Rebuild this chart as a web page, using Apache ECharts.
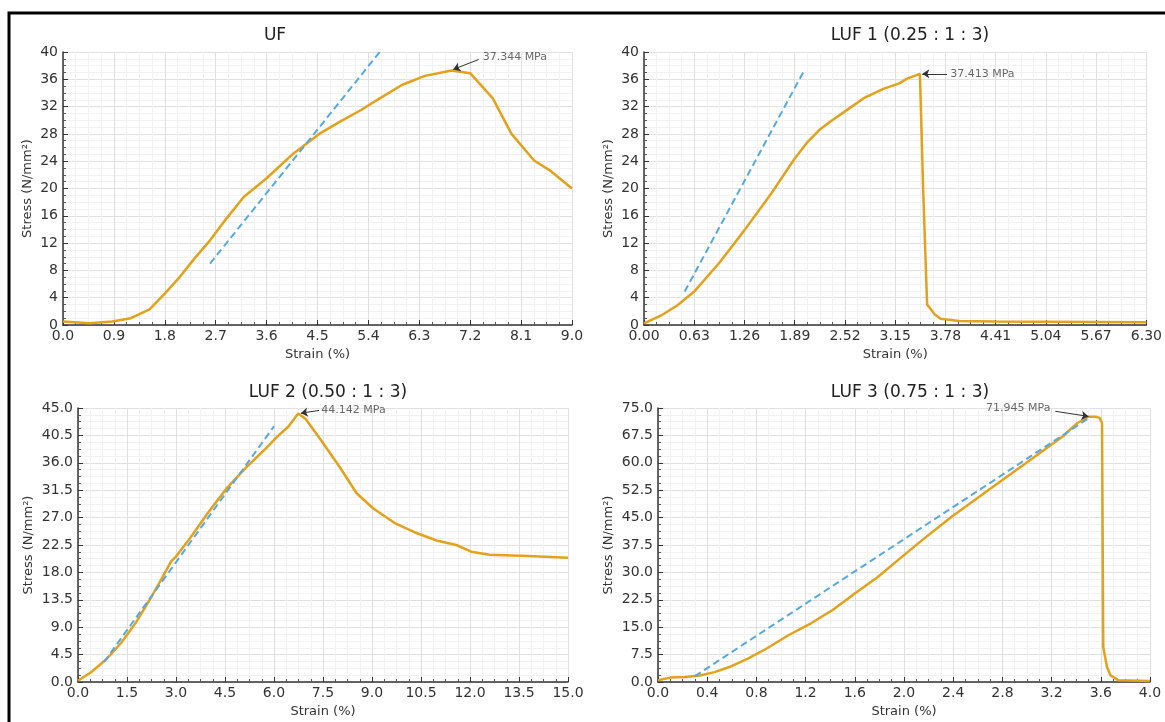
<!DOCTYPE html>
<html>
<head>
<meta charset="utf-8">
<script src="https://cdn.jsdelivr.net/npm/echarts@6/dist/echarts.min.js"></script>
<style>
html, body { margin: 0; padding: 0; background: #fff; }
#main { width: 1165px; height: 722px; }
</style>
</head>
<body>
<div id="main"></div>
<script>
// 拉伸曲线数据 (strain %, stress N/mm²)
var ufStrain = [0, 0.47, 0.87, 1.2, 1.53, 1.8, 2.07, 2.33, 2.6, 2.87, 3.2, 3.6, 4.07, 4.53, 4.9, 5.27, 5.6, 6.0, 6.4, 6.87, 7.2, 7.6, 7.93, 8.33, 8.6, 9.0];
var ufStress = [0.5, 0.25, 0.5, 1.0, 2.3, 4.6, 7.1, 9.8, 12.4, 15.4, 18.8, 21.5, 25.1, 28.0, 29.8, 31.5, 33.2, 35.2, 36.5, 37.3, 36.9, 33.2, 28.0, 24.1, 22.7, 20.0];
var ufFitStrain = [2.6, 5.6];
var ufFitStress = [9.0, 40.0];

var luf1Strain = [0, 0.23, 0.42, 0.63, 0.95, 1.26, 1.58, 1.89, 2.05, 2.2, 2.36, 2.52, 2.75, 3.0, 3.2, 3.3, 3.46, 3.5, 3.55, 3.65, 3.72, 3.95, 4.4, 6.3];
var luf1Stress = [0.25, 1.5, 2.9, 4.9, 9.2, 13.9, 19.0, 24.4, 26.8, 28.6, 30.0, 31.3, 33.2, 34.6, 35.4, 36.1, 36.8, 20.0, 3.0, 1.5, 0.9, 0.6, 0.5, 0.4];
var luf1FitStrain = [0.51, 2.0];
var luf1FitStress = [4.9, 37.1];

var luf2Strain = [0, 0.4, 0.86, 1.32, 1.79, 2.25, 2.71, 2.85, 3.0, 3.4, 3.97, 4.55, 5.12, 5.7, 6.1, 6.45, 6.74, 6.97, 7.43, 8.0, 8.53, 9.04, 9.73, 10.3, 11.0, 11.58, 12.04, 12.6, 13.76, 15.0];
var luf2Stress = [0.2, 1.6, 3.7, 6.4, 9.9, 14.0, 18.4, 19.8, 20.6, 23.4, 27.7, 31.8, 35.1, 38.1, 40.3, 42.0, 44.1, 43.2, 39.8, 35.4, 31.0, 28.5, 26.0, 24.6, 23.2, 22.5, 21.4, 20.9, 20.7, 20.4];
var luf2FitStrain = [0.8, 6.0];
var luf2FitStress = [3.3, 42.0];

var luf3Strain = [0, 0.1, 0.22, 0.34, 0.46, 0.58, 0.73, 0.88, 1.06, 1.24, 1.42, 1.6, 1.79, 1.97, 2.15, 2.39, 2.69, 2.99, 3.29, 3.41, 3.5, 3.56, 3.59, 3.61, 3.62, 3.65, 3.68, 3.74, 4.0];
var luf3Stress = [0.5, 1.2, 1.4, 1.8, 2.7, 4.1, 6.4, 9.1, 12.8, 16.0, 19.7, 24.2, 28.8, 33.9, 38.9, 45.3, 52.6, 59.9, 67.2, 70.9, 72.6, 72.6, 72.3, 70.9, 9.6, 4.1, 1.8, 0.5, 0.3];
var luf3FitStrain = [0.3, 3.52];
var luf3FitStress = [1.6, 72.6];

var titles = ['UF', 'LUF 1 (0.25 : 1 : 3)', 'LUF 2 (0.50 : 1 : 3)', 'LUF 3 (0.75 : 1 : 3)'];
var peakLabels = ['37.344 MPa', '37.413 MPa', '44.142 MPa', '71.945 MPa'];

var ORANGE = '#E4A11B';
var BLUE = '#56A9E0';
var FONT = 'DejaVu Sans';

function zip(xs, ys) {
	return xs.map(function (x, i) { return [x, ys[i]]; });
}

// 每个子图的布局与坐标轴
var panels = [ {
	grid : { left : 63, top : 52, width : 509, height : 273 },
	title : [270, 22],
	x : { max : 9, interval : 0.9, dec : 1, minor : 4 },
	y : { max : 40, interval : 4, dec : 0, minor : 4 },
	yGap : 29,
	curve : zip(ufStrain, ufStress),
	fit : zip(ufFitStrain, ufFitStress),
	text : [7.42, 39.3], textPos : 'right',
	arrow : [[7.35, 38.9], [6.9, 37.45]]
}, {
	grid : { left : 644, top : 52, width : 504, height : 273 },
	title : [905, 22],
	x : { max : 6.3, interval : 0.63, dec : 2, minor : 4 },
	y : { max : 40, interval : 4, dec : 0, minor : 4 },
	yGap : 29,
	curve : zip(luf1Strain, luf1Stress),
	fit : zip(luf1FitStrain, luf1FitStress),
	text : [3.84, 36.8], textPos : 'right',
	arrow : [[3.8, 36.8], [3.49, 36.8]]
}, {
	grid : { left : 78, top : 408, width : 490, height : 274 },
	title : [323, 379],
	x : { max : 15, interval : 1.5, dec : 1, minor : 4 },
	y : { max : 45, interval : 4.5, dec : 1, minor : 4 },
	yGap : 43,
	curve : zip(luf2Strain, luf2Stress),
	fit : zip(luf2FitStrain, luf2FitStress),
	text : [7.45, 44.7], textPos : 'right',
	arrow : [[7.38, 44.6], [6.82, 44.15]]
}, {
	grid : { left : 658, top : 408, width : 492, height : 274 },
	title : [905, 379],
	x : { max : 4, interval : 0.4, dec : 1, minor : 4 },
	y : { max : 75, interval : 7.5, dec : 1, minor : 4 },
	yGap : 43,
	curve : zip(luf3Strain, luf3Stress),
	fit : zip(luf3FitStrain, luf3FitStress),
	text : [3.19, 75.0], textPos : 'left',
	arrow : [[3.23, 74.1], [3.5, 72.7]]
} ];

function makeAxis(a, name, gap, isY) {
	return {
		type : 'value',
		min : 0,
		max : a.max,
		interval : a.interval,
		name : name,
		nameLocation : 'middle',
		nameGap : gap,
		nameTextStyle : { fontFamily : FONT, fontSize : 13, color : '#333' },
		axisLine : { show : true, onZero : false, lineStyle : { color : '#333', width : 1.5 } },
		axisTick : { show : true, inside : true, length : 5, lineStyle : { color : '#333' } },
		minorTick : { show : true, splitNumber : a.minor, length : 3, lineStyle : { color : '#555' } },
		axisLabel : {
			fontFamily : FONT, fontSize : 14, color : '#333', margin : isY ? 5 : 4,
			formatter : function (v) { return v.toFixed(a.dec); }
		},
		splitLine : { show : true, lineStyle : { color : '#e0e0e0', width : 1 } },
		minorSplitLine : { show : true, lineStyle : { color : '#f2f2f2', width : 1 } }
	};
}

var option = {
	animation : false,
	backgroundColor : '#fff',
	title : [],
	grid : [],
	xAxis : [],
	yAxis : [],
	series : [],
	graphic : [ {
		type : 'polyline',
		shape : { points : [[9, 722], [9, 13], [1165, 13]] },
		style : { stroke : '#000', lineWidth : 3, fill : null }
	} ]
};

panels.forEach(function (p, i) {
	option.title.push({
		text : titles[i],
		left : p.title[0],
		top : p.title[1],
		textAlign : 'center',
		textStyle : { fontFamily : FONT, fontSize : 17, fontWeight : 'normal', color : '#222' }
	});
	option.grid.push(p.grid);
	option.xAxis.push(Object.assign(makeAxis(p.x, 'Strain (%)', 23, false), { gridIndex : i }));
	option.yAxis.push(Object.assign(makeAxis(p.y, 'Stress (N/mm²)', p.yGap, true), { gridIndex : i }));

	option.series.push({
		type : 'line',
		xAxisIndex : i,
		yAxisIndex : i,
		data : p.fit,
		showSymbol : false,
		lineStyle : { color : BLUE, width : 2, type : [7, 4] },
		z : 3
	});
	option.series.push({
		type : 'line',
		xAxisIndex : i,
		yAxisIndex : i,
		data : p.curve,
		showSymbol : false,
		lineStyle : { color : ORANGE, width : 2.5 },
		z : 2,
		markLine : {
			silent : true,
			symbol : ['none', 'arrow'],
			symbolSize : 7,
			label : { show : false },
			lineStyle : { color : '#333', width : 1, type : 'solid' },
			data : [ [ { coord : p.arrow[0] }, { coord : p.arrow[1] } ] ]
		}
	});
	option.series.push({
		type : 'scatter',
		xAxisIndex : i,
		yAxisIndex : i,
		data : [p.text],
		symbolSize : 0,
		silent : true,
		label : {
			show : true,
			position : p.textPos,
			distance : 0,
			formatter : peakLabels[i],
			fontFamily : FONT,
			fontSize : 11,
			color : '#444'
		}
	});
});

var myChart = echarts.init(document.getElementById('main'));
myChart.setOption(option);
</script>
</body>
</html>
